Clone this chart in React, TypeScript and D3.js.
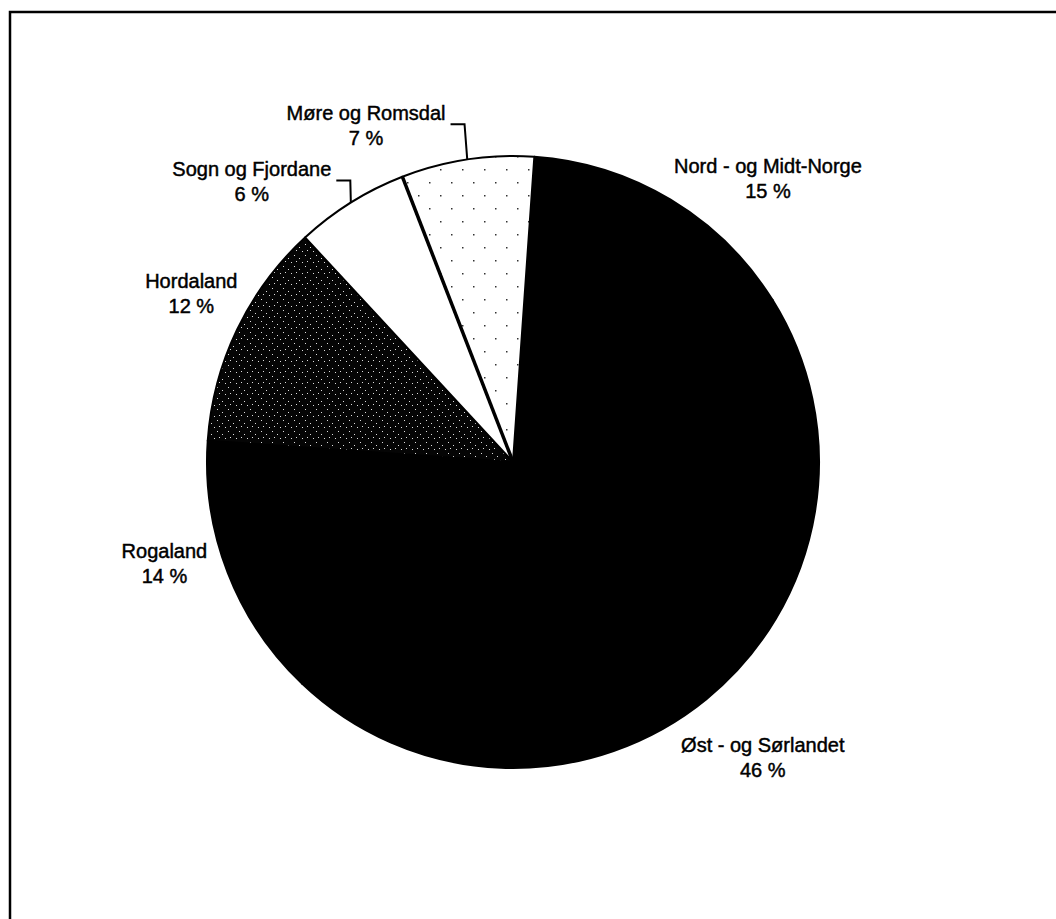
import React, { useEffect, useRef } from 'react';
import * as d3 from 'd3';

const categories = [
  'Nord - og Midt-Norge',
  'Øst - og Sørlandet',
  'Rogaland',
  'Hordaland',
  'Sogn og Fjordane',
  'Møre og Romsdal',
];
const shares = [15, 46, 14, 12, 6, 7];
const percentLabels = ['15 %', '46 %', '14 %', '12 %', '6 %', '7 %'];

const fills = ['#000', '#000', '#000', 'url(#hordPattern)', '#fff', 'url(#morePattern)'];
// label placement: angle offset (deg) from the slice middle, distance from centre, leader line?
const labelLayout = [
  { da: 11, dist: 381, leader: false },
  { da: -1, dist: 387, leader: false },
  { da: 5, dist: 363, leader: false },
  { da: 2, dist: 363, leader: false },
  { da: -11, dist: 383, leader: true },
  { da: -15, dist: 367, leader: true },
];

const W = 1056;
const H = 919;

export default function App() {
  const svgRef = useRef<SVGSVGElement>(null);

  useEffect(() => {
    if (!svgRef.current) return;
    const svg = d3.select(svgRef.current);
    svg.selectAll('*').remove();

    const cx = 513;
    const cy = 462;
    const r = 306;
    const start = (4 * Math.PI) / 180;

    const defs = svg.append('defs');
    // speckled dark fill
    const hp = defs
      .append('pattern')
      .attr('id', 'hordPattern')
      .attr('patternUnits', 'userSpaceOnUse')
      .attr('width', 11)
      .attr('height', 11);
    hp.append('rect').attr('width', 11).attr('height', 11).attr('fill', '#050505');
    [[1, 2], [6, 5], [3, 8], [9, 9]].forEach(([x, y]) => {
      hp.append('rect').attr('x', x).attr('y', y).attr('width', 1).attr('height', 1).attr('fill', '#ddd');
    });
    const mp = defs
      .append('pattern')
      .attr('id', 'morePattern')
      .attr('patternUnits', 'userSpaceOnUse')
      .attr('width', 22)
      .attr('height', 26);
    mp.append('rect').attr('width', 22).attr('height', 26).attr('fill', '#fff');
    mp.append('rect').attr('x', 4).attr('y', 6).attr('width', 1.5).attr('height', 1.5).attr('fill', '#333');
    mp.append('rect').attr('x', 15).attr('y', 19).attr('width', 1.5).attr('height', 1.5).attr('fill', '#333');

    svg
      .append('rect')
      .attr('x', 10)
      .attr('y', 12)
      .attr('width', W + 20)
      .attr('height', H + 20)
      .attr('fill', '#fff')
      .attr('stroke', '#000')
      .attr('stroke-width', 2.5);

    const pie = d3
      .pie<number>()
      .sort(null)
      .value(d => d)
      .startAngle(start)
      .endAngle(start + 2 * Math.PI);
    const arcs = pie(shares);
    const arc = d3.arc<d3.PieArcDatum<number>>().innerRadius(0).outerRadius(r);

    const g = svg.append('g').attr('transform', `translate(${cx},${cy})`);

    g.selectAll('path.slice')
      .data(arcs)
      .enter()
      .append('path')
      .attr('class', 'slice')
      .attr('d', arc)
      .attr('fill', (_d, i) => fills[i])
      .attr('stroke', '#000')
      .attr('stroke-width', 2)
      .attr('stroke-linejoin', 'round');

    // heavier edge between Sogn og Fjordane and Møre og Romsdal
    const edge = arcs[5].startAngle;
    g.append('line')
      .attr('x1', 0)
      .attr('y1', 0)
      .attr('x2', r * Math.sin(edge))
      .attr('y2', -r * Math.cos(edge))
      .attr('stroke', '#000')
      .attr('stroke-width', 3.5);

    const fontSize = 20;
    const lineGap = 25;
    arcs.forEach((a, i) => {
      const mid = (a.startAngle + a.endAngle) / 2;
      const lay = labelLayout[i];
      const ang = mid + (lay.da * Math.PI) / 180;
      const lx = lay.dist * Math.sin(ang);
      const ly = -lay.dist * Math.cos(ang);
      const text = g
        .append('text')
        .attr('text-anchor', 'middle')
        .attr('font-family', '"Liberation Sans", Arial, sans-serif')
        .attr('font-size', fontSize)
        .attr('fill', '#000')
        .attr('stroke', '#000')
        .attr('stroke-width', 0.45);
      const t1 = text
        .append('tspan')
        .attr('x', lx)
        .attr('y', ly - lineGap / 2 + fontSize * 0.35)
        .text(categories[i]);
      text
        .append('tspan')
        .attr('x', lx)
        .attr('y', ly + lineGap / 2 + fontSize * 0.35)
        .text(percentLabels[i]);

      if (lay.leader) {
        const w = (t1.node() as SVGTextContentElement).getComputedTextLength();
        const sx = lx + w / 2 + 5;
        const sy = ly - lineGap / 2 + 11;
        const ex = r * Math.sin(mid);
        const ey = -r * Math.cos(mid);
        const elx = Math.max(sx + 14, ex - 8);
        g.append('path')
          .attr('d', `M${sx},${sy}L${elx},${sy}L${ex},${ey}`)
          .attr('fill', 'none')
          .attr('stroke', '#000')
          .attr('stroke-width', 2);
      }
    });
  }, []);

  return (
    <svg
      ref={svgRef}
      width={W}
      height={H}
      style={{ position: 'fixed', left: 0, top: 0, background: '#fff' }}
    />
  );
}
